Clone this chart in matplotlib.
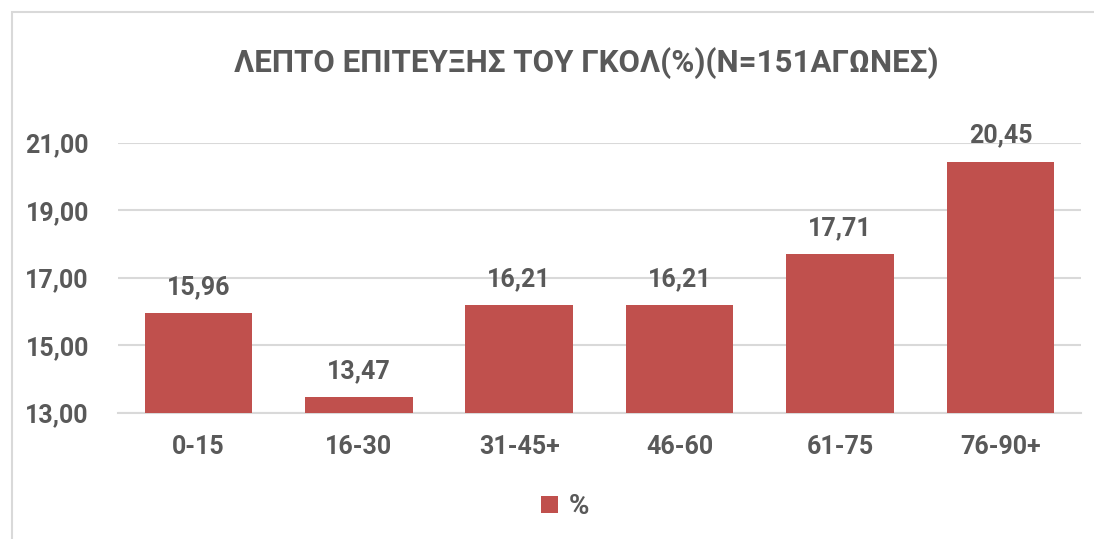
import matplotlib.pyplot as plt
from matplotlib.patches import Rectangle

categories = ['0-15', '16-30', '31-45+', '46-60', '61-75', '76-90+']
values = [15.96, 13.47, 16.21, 16.21, 17.71, 20.45]
yticks = [13, 15, 17, 19, 21]
title = 'ΛΕΠΤΟ ΕΠΙΤΕΥΞΗΣ ΤΟΥ ΓΚΟΛ(%)(Ν=151ΑΓΩΝΕΣ)'
series_name = '%'

plt.rcParams['font.family'] = ['Roboto', 'DejaVu Sans']
plt.rcParams['font.weight'] = 'bold'
grey = '#595959'
red = '#C0504D'
grid = '#D9D9D9'

fig = plt.figure(figsize=(10.94, 5.39), dpi=100)
ax = fig.add_axes([0.1079, 0.2338, 0.8801, 0.5009])

# chart border (cropped on the right and bottom)
fig.patches.append(Rectangle((0.011, -0.05), 1.1, 0.978 + 0.05, transform=fig.transFigure,
                             fill=False, edgecolor=grid, linewidth=1.5))

x = range(len(categories))
bars = ax.bar(x, values, width=0.67, color=red, label=series_name, zorder=3)
ax.set_ylim(13, 21)
ax.set_xlim(-0.5, len(categories) - 0.5)
ax.set_yticks(yticks)
ax.set_yticklabels([('%.2f' % t).replace('.', ',') for t in yticks])
ax.set_xticks(list(x))
ax.set_xticklabels(categories)
ax.tick_params(axis='both', length=0, colors=grey, labelsize=18)
ax.tick_params(axis='y', pad=21)
ax.tick_params(axis='x', pad=16)
for lab in ax.get_xticklabels() + ax.get_yticklabels():
    lab.set_fontweight('bold')

ax.grid(axis='y', color=grid, linewidth=1.5, zorder=0)
for s in ['top', 'right', 'left']:
    ax.spines[s].set_visible(False)
ax.spines['bottom'].set_color(grid)
ax.spines['bottom'].set_linewidth(1.5)

for i, v in enumerate(values):
    ax.annotate(('%.2f' % v).replace('.', ','), (i, v), xytext=(0, 10),
                textcoords='offset points', ha='center', va='bottom',
                fontsize=18, fontweight='bold', color=grey, clip_on=False)

fig.text(0.536, 0.883, title, ha='center', va='center', fontsize=22.5,
         fontweight='bold', color=grey)

leg = fig.legend(loc='center', bbox_to_anchor=(0.517, 0.06), frameon=False,
                 handlelength=0.6, handleheight=0.6, handletextpad=0.4,
                 prop={'size': 20, 'weight': 'bold'})
for t in leg.get_texts():
    t.set_color(grey)

fig.savefig('out.png', dpi=100)
